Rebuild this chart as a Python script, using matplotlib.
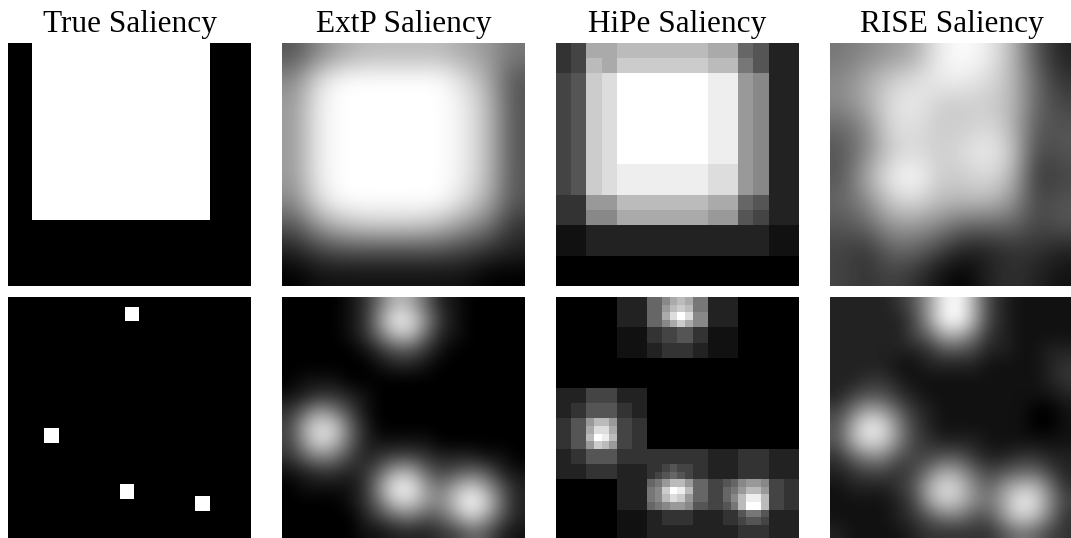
import numpy as np
from matplotlib import pyplot as plt

plt.rcParams['font.family'] = ['Liberation Serif', 'DejaVu Serif']

titles = ['True Saliency', 'ExtP Saliency', 'HiPe Saliency', 'RISE Saliency']

# ground truth masks on a 100x100 grid
true_size = 100
true_rect = (0, 73, 10, 83)          # row start, row end, col start, col end
true_squares = [(4, 48), (54, 15), (77, 46), (82, 77)]   # (row, col) of each square
square_size = 6

# saliency maps, one hex digit per cell (0 = black, f = white)
extp_rect = [
    '58abbbba97',
    '8dfffffda5',
    '9efffffeb5',
    '9efffffeb5',
    '9efffffeb5',
    '9efffffeb5',
    '8dfffffda5',
    '59bcccb973',
    '2455555432',
    '0111111100',
]

extp_squares = [
    '0000137ba6210000',
    '0000139ed8310000',
    '0000137bb6210000',
    '0000013553100000',
    '0000001221000000',
    '0111000000000000',
    '1233210000000000',
    '3697410000000000',
    '4adc620000000000',
    '49db621111000000',
    '3687423443222110',
    '1233236aa6456521',
    '0111139ee97ac952',
    '0000137cc98cfc62',
    '000002467569c952',
    '0000011222346521',
]

hipe_rect = [
    '34aabbbbbbaa6522',
    '34baccccccbb7522',
    '45cdffffffee9822',
    '45cdffffffee9822',
    '45cdffffffee9822',
    '45cdffffffee9822',
    '45cdffffffee9822',
    '45cdffffffee9822',
    '45cdeeeeeedd9822',
    '45cdeeeeeedd9822',
    '3399bbbbbbaa6522',
    '3388aaaaaa995422',
    '1122222222222211',
    '1122222222222211',
    '0000000000000000',
    '0000000000000000',
]

hipe_squares = [
    '00000000' '2222' '668aba77' '2222' '00000000',
    '00000000' '2222' '669bcb77' '2222' '00000000',
    '00000000' '2222' '66adfd88' '2222' '00000000',
    '00000000' '2222' '668aca88' '2222' '00000000',
    '00000000' '1111' '33445533' '1111' '00000000',
    '00000000' '1111' '33445533' '1111' '00000000',
    '00000000' '1111' '22333322' '1111' '00000000',
    '00000000' '1111' '22333322' '1111' '00000000',
    '0' * 32,
    '0' * 32,
    '0' * 32,
    '0' * 32,
    '2222' '4444' '2222' + '0' * 20,
    '2222' '4444' '2222' + '0' * 20,
    '2233' '5555' '3322' + '0' * 20,
    '2233' '5555' '3322' + '0' * 20,
    '3355' '9bb9' '4433' + '0' * 20,
    '3355' 'adda' '4433' + '0' * 20,
    '3355' 'bfeb' '4433' + '0' * 20,
    '3355' '9cb9' '4433' + '0' * 20,
    '2233' '5555' '3333' '3333' '3333' '2222' '3333' '2222',
    '2233' '5555' '3333' '3333' '3333' '2222' '3333' '2222',
    '2222' '3333' '2222' '3345' '4433' '2222' '3333' '2222',
    '2222' '3333' '2222' '3456' '5433' '2222' '3333' '2222',
    '0000' '0000' '2222' '679bb966' '4456' '8998' '4433',
    '0000' '0000' '2222' '78cfeb66' '4467' '9bb9' '4433',
    '0000' '0000' '2222' '78bdc966' '4468' 'beeb' '4433',
    '0000' '0000' '2222' '67899855' '4457' 'bffb' '4433',
    '0000' '0000' '1111' '22333322' '2233' '5775' '2222',
    '0000' '0000' '1111' '22333322' '2233' '4554' '2222',
    '0000' '0000' '1111' '22222222' '2222' '3333' '2222',
    '0000' '0000' '1111' '22222222' '2222' '3333' '2222',
]

rise_rect = [
    '789aefeb52',
    '8acdeedb63',
    '8adecccb64',
    '68ddccdb55',
    '58cdcdec45',
    '5aefccdb34',
    '68cdbbb945',
    '5699866645',
    '4366422332',
    '4343102321',
]

rise_squares = [
    '2222359efa421111',
    '2222249efa421111',
    '2222246aa7321111',
    '2222223554221122',
    '2222112222111123',
    '2233211111111123',
    '2455321111111112',
    '47a9632111111001',
    '5aed842111111001',
    '5adc843222111111',
    '3688544553223322',
    '2344347a96456642',
    '122235adc869bb73',
    '1111249cb87aed84',
    '111123577559cb73',
    '2111123333357643',
]


def hex_grid(rows):
    return np.array([[int(ch, 16) for ch in r] for r in rows]) / 15.0


def true_map(rects, squares):
    img = np.zeros((true_size, true_size))
    for r0, r1, c0, c1 in rects:
        img[r0:r1, c0:c1] = 1
    for r, c in squares:
        img[r:r + square_size, c:c + square_size] = 1
    return img


rows = [
    [true_map([true_rect], []), hex_grid(extp_rect), hex_grid(hipe_rect), hex_grid(rise_rect)],
    [true_map([], true_squares), hex_grid(extp_squares), hex_grid(hipe_squares), hex_grid(rise_squares)],
]
interp = ['nearest', 'bicubic', 'nearest', 'bicubic']

W, H = 1071, 538
fig = plt.figure(figsize=(W / 100, H / 100), dpi=100)

lefts = [8, 282, 556, 830]
tops = [43, 297]
size = 243

for i, top in enumerate(tops):
    for j, left in enumerate(lefts):
        ax = fig.add_axes([left / W, 1 - (top + size) / H, size / W, size / H])
        ax.imshow(rows[i][j], cmap='gray', vmin=0, vmax=1,
                  interpolation=interp[j], aspect='auto')
        ax.axis('off')
        if i == 0:
            ax.set_title(titles[j], fontsize=22.5, pad=8)

plt.savefig('out.png', dpi=100)
